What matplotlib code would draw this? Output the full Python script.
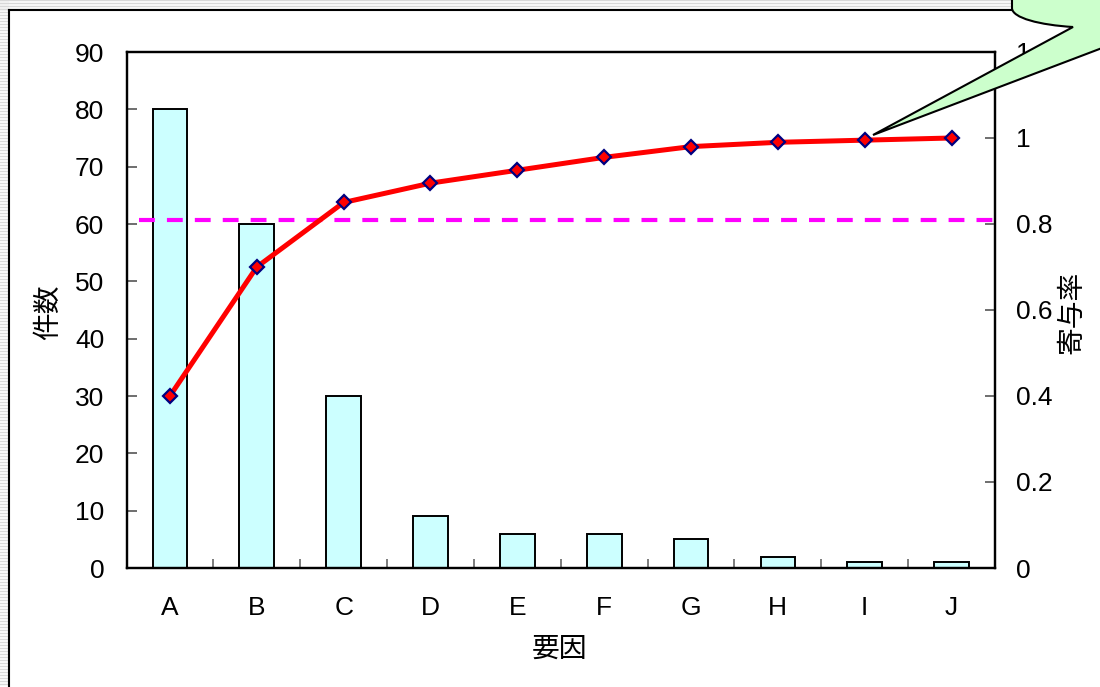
import numpy as np
import matplotlib
matplotlib.use("Agg")
import matplotlib.pyplot as plt
from matplotlib.path import Path
from matplotlib.patches import PathPatch, Rectangle

plt.rcParams['font.family'] = ['Liberation Sans', 'Noto Sans CJK JP', 'DejaVu Sans']

# data
categories = ['A', 'B', 'C', 'D', 'E', 'F', 'G', 'H', 'I', 'J']
counts = [80, 60, 30, 9, 6, 6, 5, 2, 1, 1]
ratio = [0.4, 0.7, 0.85, 0.895, 0.925, 0.955, 0.98, 0.99, 0.995, 1.0]
threshold = 0.81
left_ticks = [0, 10, 20, 30, 40, 50, 60, 70, 80, 90]
right_ticks = [0, 0.2, 0.4, 0.6, 0.8, 1.0, 1.2]
right_labels = ['0', '0.2', '0.4', '0.6', '0.8', '1', '1.2']

W, H = 1100, 687
fig = plt.figure(figsize=(W / 100, H / 100), dpi=100)

# background: striped frame and chart border
bg = fig.add_axes([0, 0, 1, 1], zorder=-5)
bg.set_xlim(0, W)
bg.set_ylim(H, 0)
bg.axis('off')
for y in np.arange(0, H, 3):
    bg.plot([0, 8], [y, y], color='#d8d8d8', lw=1)
for y in np.arange(0, 10, 3):
    bg.plot([0, W], [y, y], color='#d8d8d8', lw=1)
bg.add_patch(Rectangle((8, 9), W, H, facecolor='white', edgecolor='none'))
bg.plot([9, 9], [10, H], color='black', lw=1.5)
bg.plot([9, W], [10, 10], color='black', lw=1.5)

# main chart
ax = fig.add_axes([126.5 / W, 1 - 568 / H, 868.5 / W, 516 / H])
x = np.arange(len(categories))
ax.bar(x, counts, width=0.4, color='#ccffff', edgecolor='black', linewidth=1.4, zorder=2)
ax.set_xlim(-0.5, len(categories) - 0.5)
ax.set_ylim(0, 90)
ax.set_yticks(left_ticks)
ax.set_xticks(x)
ax.set_xticklabels(categories)
ax.set_xticks(np.arange(0.5, len(categories) - 1, 1), minor=True)
ax.tick_params(axis='x', which='major', length=0, pad=20, labelsize=19)
ax.tick_params(axis='x', which='minor', direction='in', length=6.5, color='#666666', width=1.2)
ax.tick_params(axis='y', direction='in', length=7, color='#555555', width=1.2, pad=16, labelsize=19)
for s in ax.spines.values():
    s.set_linewidth(1.6)
ax.set_xlabel('要因', fontsize=20, va='center')
ax.xaxis.set_label_coords(0.498, -0.159)
ax.set_ylabel('件数', fontsize=20, va='center')
ax.yaxis.set_label_coords(-0.089, 0.496)

ax2 = ax.twinx()
ax2.set_ylim(0, 1.2)
ax2.set_yticks(right_ticks)
ax2.set_yticklabels(right_labels)
ax2.tick_params(axis='y', direction='in', length=7, color='#555555', width=1.2, pad=15, labelsize=19)
for s in ax2.spines.values():
    s.set_linewidth(1.6)
ax2.axhline(threshold, xmin=0.014, xmax=1.0, color='#ff00ff', lw=3, dashes=(3.8, 2.9), zorder=3)
ax2.plot(x, ratio, color='#ff0000', lw=3.6, marker='D', markersize=7,
         markerfacecolor='#ff0000', markeredgecolor='#000080', markeredgewidth=1.6, zorder=4)
ax2.set_ylabel('寄与率', fontsize=20, rotation=90, va='center')
ax2.yaxis.set_label_coords(1.089, 0.496)

# callout bubble on top
ov = fig.add_axes([0, 0, 1, 1], zorder=10)
ov.set_xlim(0, W)
ov.set_ylim(H, 0)
ov.axis('off')
ov.patch.set_alpha(0)
verts = [(1012, -5), (1012, 8), (1012, 18), (1040, 25), (1073, 27),
         (873, 135), (1110, 45), (1110, -5), (1012, -5)]
codes = [Path.MOVETO, Path.LINETO, Path.CURVE4, Path.CURVE4, Path.CURVE4,
         Path.LINETO, Path.LINETO, Path.LINETO, Path.CLOSEPOLY]
ov.add_patch(PathPatch(Path(verts, codes), facecolor='#ccffcc', edgecolor='black', lw=1.5))

fig.savefig('out.png', dpi=100)
